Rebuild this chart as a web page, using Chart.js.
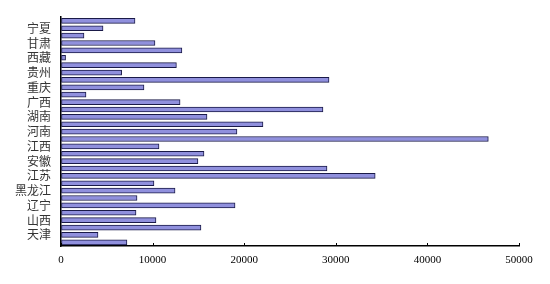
<!DOCTYPE html>
<html><head><meta charset="utf-8">
<script src="https://cdn.jsdelivr.net/npm/chart.js@4"></script>
<style>html,body{margin:0;padding:0;background:#fff}#wrap{width:550px;height:284px}</style>
</head><body><div id="wrap"><canvas id="c" width="550" height="284"></canvas></div>
<script>
const provinces = ['北京','天津','河北','山西','内蒙古','辽宁','吉林','黑龙江','上海','江苏','浙江','安徽','福建','江西','山东','河南','湖北','湖南','广东','广西','海南','重庆','四川','贵州','云南','西藏','陕西','甘肃','青海','宁夏','新疆'];
const values = [7200,4040,15280,10370,8190,19000,8300,12450,10150,34300,29040,14950,15610,10700,46650,19210,22050,15940,28600,13000,2730,9060,29260,6620,12600,500,13200,10260,2510,4590,8080];
const xTicks = [0,10000,20000,30000,40000,50000];

const innerTicks = {
  id:'innerTicks',
  afterDraw(chart){
    const ctx = chart.ctx, xs = chart.scales.x, a = chart.chartArea;
    ctx.save(); ctx.strokeStyle='#000'; ctx.lineWidth=1;
    xTicks.forEach(v=>{const px=Math.round(xs.getPixelForValue(v))+0.5;ctx.beginPath();ctx.moveTo(px,a.bottom);ctx.lineTo(px,a.bottom-3);ctx.stroke();});
    ctx.restore();
  }
};

new Chart(document.getElementById('c'),{
  type:'bar',
  data:{labels:provinces,datasets:[{data:values,backgroundColor:'#9090dd',borderColor:'#1a1a48',borderWidth:1,borderSkipped:false,barThickness:5}]},
  options:{
    indexAxis:'y',responsive:false,animation:false,
    layout:{padding:{top:16,right:31,left:0,bottom:0}},
    plugins:{legend:{display:false},tooltip:{enabled:false}},
    scales:{
      x:{min:0,max:50000,afterBuildTicks(s){s.ticks=xTicks.map(v=>({value:v}));},
        grid:{display:true,drawOnChartArea:false,drawTicks:false},
        border:{display:true,color:'#000',width:1.5},
        ticks:{padding:8,color:'#000',font:{family:'Liberation Serif',size:11},maxRotation:0,
          callback(v){return String(v);}},
        afterFit(s){s.height=38;}},
      y:{reverse:true,grid:{display:false,drawTicks:false},
        border:{display:true,color:'#000',width:1.5},
        ticks:{autoSkip:false,padding:10,color:'#333',font:{family:'Noto Sans CJK SC',size:12},
          callback(v,i){return i%2===1?provinces[i]:'';}},
        afterFit(s){s.width=61;}}
    }
  },
  plugins:[innerTicks]
});
</script></body></html>
